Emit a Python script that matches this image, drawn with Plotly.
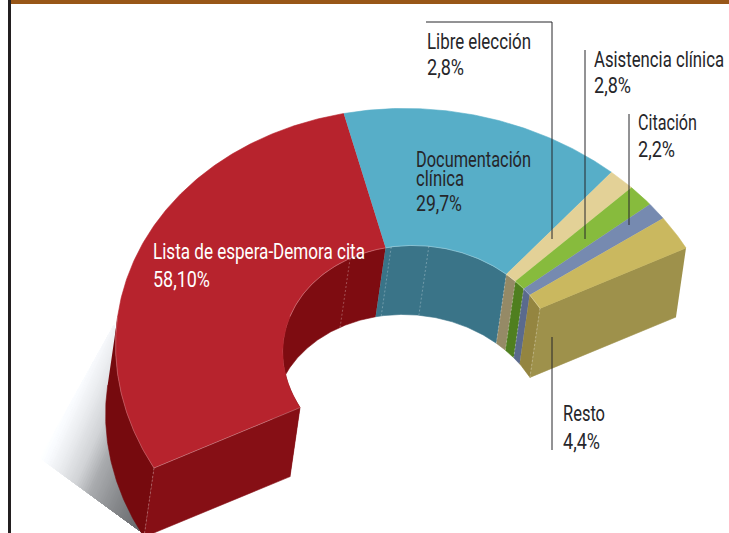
import numpy as np
import plotly.graph_objects as go

# ---------- data ----------
categories = ["Lista de espera-Demora cita", "Documentación clínica", "Libre elección",
              "Asistencia clínica", "Citación", "Resto"]
values = [58.1, 29.7, 2.8, 2.8, 2.2, 4.4]
value_labels = ["58,10%", "29,7%", "2,8%", "2,8%", "2,2%", "4,4%"]

top_colors = ["#b7232d", "#57aec8", "#e3d197", "#87bb3d", "#768ab0", "#cab85f"]
wall_colors = ["#7e0c11", "#3a7488", "#958a66", "#4f7f1f", "#5a6a8d", "#948540"]

# ---------- projection of the half ring (page pixels) ----------
W, H = 729, 533
CENTER = np.array([420.0, 358.0])
AXIS_U = np.array([266.0, -110.0])
AXIS_V = np.array([-148.0, -224.0])
DEPTH = np.array([-10.0, 69.0])
INNER = 0.451
SWEEP = 180.0
INK = "#26262a"
FONT = "Roboto"
FONT_SIZE = 22


def project(theta_deg, radius=1.0, lowered=False):
    t = np.radians(np.atleast_1d(theta_deg))
    pts = CENTER + radius * (np.outer(np.cos(t), AXIS_U) + np.outer(np.sin(t), AXIS_V))
    return pts + DEPTH if lowered else pts


def arc(a, b):
    n = max(3, int(abs(a - b) * 2) + 2)
    return np.linspace(a, b, n)


def add_poly(fig, pts, color):
    fig.add_trace(go.Scatter(x=pts[:, 0], y=pts[:, 1], mode="lines", fill="toself",
                             fillcolor=color, line=dict(color=color, width=0.6),
                             hoverinfo="skip", showlegend=False))


def add_line(fig, pts, color, width=1.0, dash="solid"):
    fig.add_trace(go.Scatter(x=pts[:, 0], y=pts[:, 1], mode="lines",
                             line=dict(color=color, width=width, dash=dash),
                             hoverinfo="skip", showlegend=False))


def clip_half_plane(poly, g, s0):
    out = []
    for i in range(len(poly)):
        p, q = poly[i], poly[(i + 1) % len(poly)]
        sp, sq = p @ g - s0, q @ g - s0
        if sp >= 0:
            out.append(p)
        if sp * sq < 0:
            out.append(p + (q - p) * sp / (sp - sq))
    return np.array(out)


fig = go.Figure()

# soft shadow: nested half-plane clips from light to dark
shadow = np.array([[114.0, 325.0], [40.0, 458.0], [143.0, 533.0], [150.0, 400.0]])
g = np.array([0.913, 0.408])
shade_s = [222, 232, 247, 266, 282, 310, 333, 350]
shade_l = [255, 248, 232, 208, 170, 135, 112, 100]
for s0 in np.linspace(shade_s[0], shade_s[-1], 60):
    poly = clip_half_plane(shadow, g, s0)
    if len(poly) >= 3:
        level = np.interp(s0, shade_s, shade_l)
        add_poly(fig, poly, f"rgb({level:.0f},{level + 2:.0f},{level + 5:.0f})")

# slice boundaries from the values
edges = SWEEP - SWEEP * np.cumsum([0] + values) / sum(values)

# silhouette angle of the ring against the extrusion
cu = AXIS_U[0] * DEPTH[1] - AXIS_U[1] * DEPTH[0]
cv = AXIS_V[0] * DEPTH[1] - AXIS_V[1] * DEPTH[0]
silhouette = np.degrees(np.arctan(cv / cu)) % 180

# outer wall (left)
a = arc(silhouette, SWEEP)
add_poly(fig, np.vstack([project(a), project(a[::-1], lowered=True)]), "#760a0e")

# inner walls
for i in range(len(values)):
    a = arc(edges[i], edges[i + 1])
    add_poly(fig, np.vstack([project(a, INNER), project(a[::-1], INNER, True)]), wall_colors[i])

# end faces
p = np.vstack([project(SWEEP), project(SWEEP, INNER), project(SWEEP, INNER, True), project(SWEEP, 1, True)])
add_poly(fig, p, "#860f15")
p = np.vstack([project(0), project(0, INNER), project(0, INNER, True), project(0, 1, True)])
add_poly(fig, p, "#9e914b")

# top faces
for i in range(len(values)):
    a = arc(edges[i], edges[i + 1])
    add_poly(fig, np.vstack([project(a), project(a[::-1], INNER)]), top_colors[i])

# thin light seams
SEAM = "rgba(255,255,255,0.4)"
add_line(fig, project(arc(silhouette - 12, 0), INNER), "rgba(255,255,255,0.45)", 0.6)
add_line(fig, np.vstack([project(SWEEP), project(SWEEP, INNER)]), "rgba(255,255,255,0.45)", 0.6)
add_line(fig, project(arc(silhouette, SWEEP)), "rgba(255,255,255,0.35)", 0.6)
for th, r in [(SWEEP, 1.0), (0.0, INNER), (91.5, INNER), (73.0, INNER), (57.2, INNER)] + \
        [(e, INNER) for e in edges[2:5]]:
    add_line(fig, np.vstack([project(th, r), project(th, r, True)]), SEAM, 0.7, "2px,2px")

# leader lines
for xs, ys in [([426, 552, 552], [22, 22, 239]), ([585, 585], [50, 239]),
               ([629, 629], [114, 225]), ([552, 552], [337, 450])]:
    add_line(fig, np.column_stack([xs, ys]), INK, 1.0)

# text: x, y, string, colour, target width on the page
texts = [
    (153, 253, categories[0], "#ffffff", 212), (153, 281, value_labels[0], "#ffffff", 57),
    (416, 161, "Documentación", INK, 115), (416, 180, "clínica", INK, 48), (416, 205, value_labels[1], INK, 46),
    (427, 43, categories[2], INK, 104), (427, 69, value_labels[2], INK, 37),
    (594, 61, categories[3], INK, 130), (594, 87, value_labels[3], INK, 37),
    (638, 124, categories[4], INK, 59), (638, 151, value_labels[4], INK, 37),
    (563, 415, categories[5], INK, 42), (563, 443, value_labels[5], INK, 37),
]
for x, y, t, c, w in texts:
    fig.add_trace(go.Scatter(x=[x], y=[y], mode="text", text=[t], textposition="middle right",
                             textfont=dict(family=FONT, size=FONT_SIZE, color=c, weight=400),
                             hoverinfo="skip", showlegend=False))

fig.update_layout(
    width=W, height=H, margin=dict(l=0, r=0, t=0, b=0),
    paper_bgcolor="white", plot_bgcolor="white", showlegend=False,
    xaxis=dict(range=[0, W], visible=False, fixedrange=True),
    yaxis=dict(range=[H, 0], visible=False, fixedrange=True),
    shapes=[
        dict(type="rect", xref="x", yref="y", x0=11, x1=W, y0=0, y1=4, fillcolor="#985718", line_width=0),
        dict(type="rect", xref="x", yref="y", x0=8, x1=11, y0=0, y1=H, fillcolor="#231f20", line_width=0),
    ],
)
widths = [t[4] for t in texts]
post = ("document.body.style.margin='0';"
        "var ws=" + str(widths) + ";"
        "document.querySelectorAll('.textpoint text').forEach(function(t,i){"
        "t.setAttribute('textLength',ws[i]);t.setAttribute('lengthAdjust','spacingAndGlyphs');});")
fig.write_html("out.html", config={"displayModeBar": False}, post_script=post)
